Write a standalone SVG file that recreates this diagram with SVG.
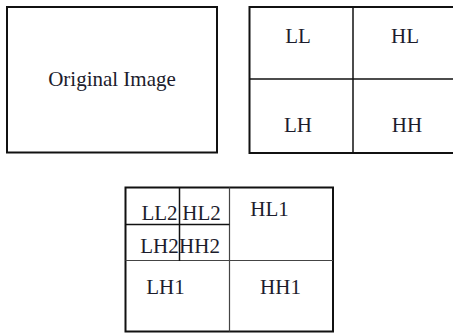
<svg xmlns="http://www.w3.org/2000/svg" width="453" height="333" viewBox="0 0 453 333">
<style>
.box{fill:#fff;stroke:#111;stroke-width:2}
.div{stroke:#111;stroke-width:1.5;fill:none}
.thin{stroke:#444;stroke-width:1.2;fill:none}
text{font-family:"Liberation Serif","Times New Roman",serif;font-size:21px;fill:#1c1c2c;text-anchor:middle}
</style>
<rect width="453" height="333" fill="#fff"/>
<g id="original">
<rect class="box" x="7" y="7" width="210" height="145.5"/>
<text x="112" y="86">Original Image</text>
</g>
<g id="level1">
<rect class="box" x="249.5" y="7" width="210" height="146"/>
<line class="div" x1="249.5" y1="79" x2="453" y2="79"/>
<line class="div" x1="353" y1="7" x2="353" y2="153"/>
<text x="298" y="43">LL</text>
<text x="405" y="43">HL</text>
<text x="298" y="132">LH</text>
<text x="407" y="132">HH</text>
</g>
<g id="level2">
<rect class="box" x="125.5" y="187.5" width="207.5" height="144"/>
<line class="thin" x1="229.5" y1="187.5" x2="229.5" y2="331.5"/>
<line class="thin" x1="125.5" y1="260.5" x2="333" y2="260.5"/>
<line class="div" x1="179.5" y1="187.5" x2="179.5" y2="261"/>
<line class="div" x1="125.5" y1="224.5" x2="229.5" y2="224.5"/>
<text x="159.5" y="220">LL2</text>
<text x="201.5" y="220">HL2</text>
<text x="159.5" y="253">LH2</text>
<text x="199.5" y="253">HH2</text>
<text x="269.5" y="216">HL1</text>
<text x="165.5" y="294">LH1</text>
<text x="280.5" y="294">HH1</text>
</g>
</svg>
